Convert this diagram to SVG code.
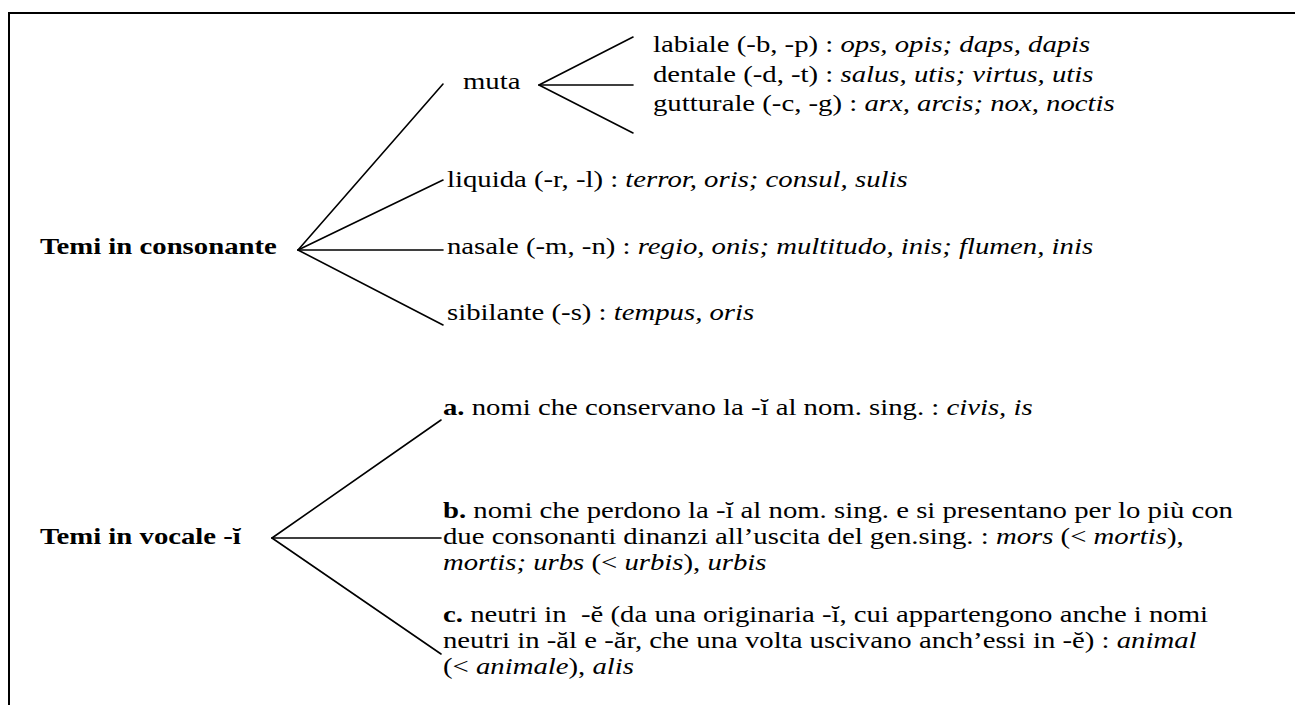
<svg xmlns="http://www.w3.org/2000/svg" width="1295" height="705" viewBox="0 0 1295 705">
<style>
text{font-family:"Liberation Serif","DejaVu Serif",serif;font-size:23px;fill:#000}
.b{font-weight:bold}
.i{font-style:italic}
.c line{stroke:#000;stroke-width:1.6;stroke-linecap:round}
.frame{stroke:#000;stroke-width:2;fill:none}
</style>
<rect width="1295" height="705" fill="#fff"/>
<path class="frame" d="M9,705 V13 H1295"/>
<g class="c" id="connectors">
<line x1="539" y1="85" x2="633" y2="37"/>
<line x1="539" y1="85" x2="633" y2="85"/>
<line x1="539" y1="85" x2="633" y2="133"/>
<line x1="298" y1="250" x2="443" y2="84"/>
<line x1="298" y1="250" x2="443" y2="180"/>
<line x1="298" y1="250" x2="443" y2="250"/>
<line x1="298" y1="250" x2="443" y2="325"/>
<line x1="272" y1="538" x2="441" y2="420"/>
<line x1="272" y1="538" x2="441" y2="538"/>
<line x1="272" y1="538" x2="441" y2="654"/>
</g>
<g id="temi-consonante"><text class="b" transform="translate(40,254) scale(1.25,1)">Temi in consonante</text></g>
<g id="muta"><text transform="translate(463,89) scale(1.25,1)">muta</text></g>
<g id="labiale"><text transform="translate(653,52) scale(1.25,1)">labiale (-b, -p) : <tspan class="i">ops, opis; daps, dapis</tspan></text></g>
<g id="dentale"><text transform="translate(653,82) scale(1.25,1)">dentale (-d, -t) : <tspan class="i">salus, utis; virtus, utis</tspan></text></g>
<g id="gutturale"><text transform="translate(653,111) scale(1.25,1)">gutturale (-c, -g) : <tspan class="i">arx, arcis; nox, noctis</tspan></text></g>
<g id="liquida"><text transform="translate(447,187) scale(1.25,1)">liquida (-r, -l) : <tspan class="i">terror, oris; consul, sulis</tspan></text></g>
<g id="nasale"><text transform="translate(447,254) scale(1.25,1)">nasale (-m, -n) : <tspan class="i">regio, onis; multitudo, inis; flumen, inis</tspan></text></g>
<g id="sibilante"><text transform="translate(447,320) scale(1.25,1)">sibilante (-s) : <tspan class="i">tempus, oris</tspan></text></g>
<g id="temi-vocale"><text class="b" transform="translate(40,544) scale(1.25,1)">Temi in vocale -ĭ</text></g>
<g id="a"><text transform="translate(443,415) scale(1.25,1)"><tspan class="b">a.</tspan> nomi che conservano la -ĭ al nom. sing. : <tspan class="i">civis, is</tspan></text></g>
<g id="b">
<text transform="translate(443,518) scale(1.25,1)"><tspan class="b">b.</tspan> nomi che perdono la -ĭ al nom. sing. e si presentano per lo più con</text>
<text transform="translate(443,544) scale(1.25,1)">due consonanti dinanzi all’uscita del gen.sing. : <tspan class="i">mors</tspan> (&lt; <tspan class="i">mortis</tspan>),</text>
<text transform="translate(443,570) scale(1.25,1)"><tspan class="i">mortis; urbs</tspan> (&lt; <tspan class="i">urbis</tspan>), <tspan class="i">urbis</tspan></text>
</g>
<g id="c">
<text transform="translate(443,622) scale(1.25,1)" xml:space="preserve"><tspan class="b">c.</tspan> neutri in  -ĕ (da una originaria -ĭ, cui appartengono anche i nomi</text>
<text transform="translate(443,648) scale(1.25,1)">neutri in -ăl e -ăr, che una volta uscivano anch’essi in -ĕ) : <tspan class="i">animal</tspan></text>
<text transform="translate(443,674) scale(1.25,1)">(&lt; <tspan class="i">animale</tspan>), <tspan class="i">alis</tspan></text>
</g>
</svg>
